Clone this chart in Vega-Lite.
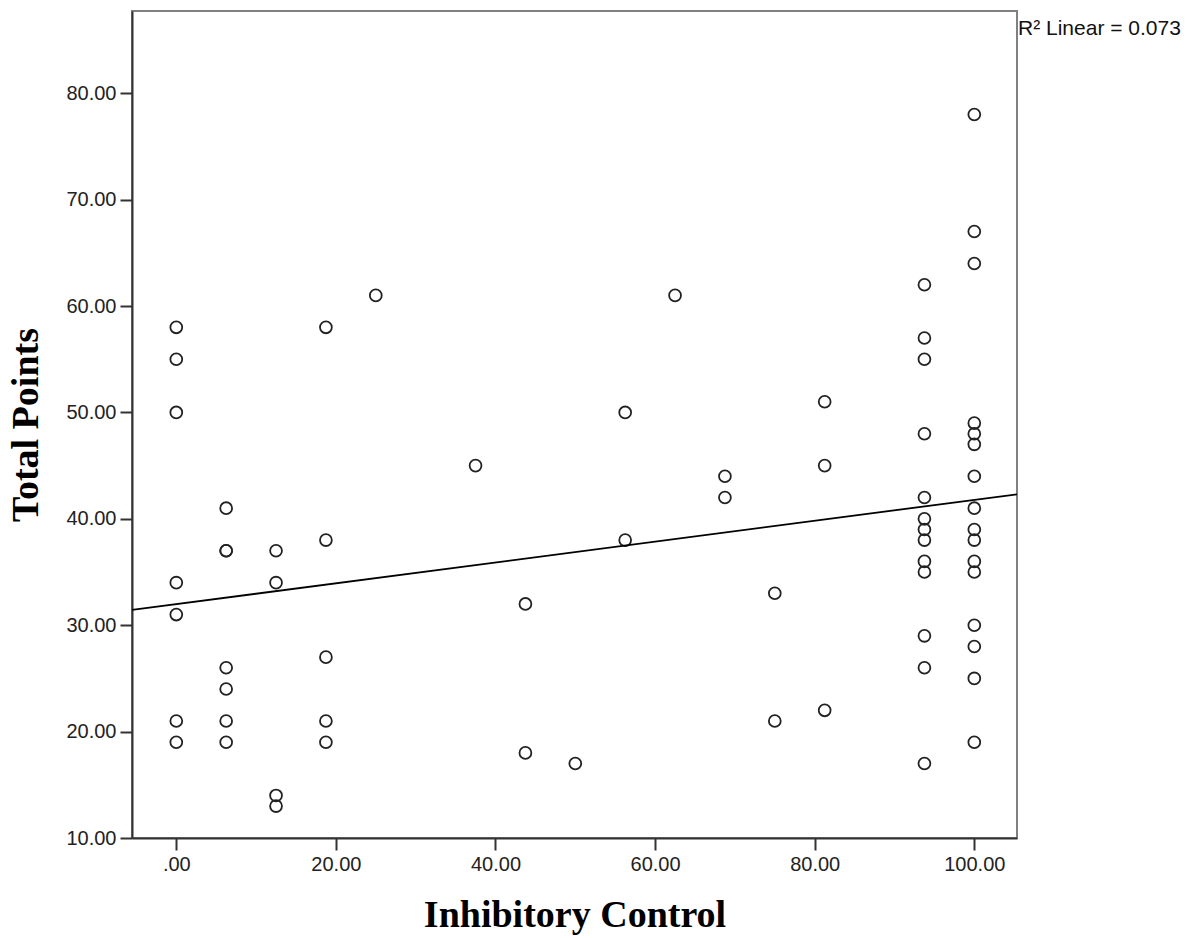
{
  "$schema": "https://vega.github.io/schema/vega-lite/v6.json",
  "autosize": "none",
  "width": 885,
  "height": 827,
  "padding": {"left": 132, "top": 11, "right": 174, "bottom": 100},
  "background": "white",
  "config": {
    "view": {"stroke": "#808080", "strokeWidth": 2},
    "axis": {
      "grid": false,
      "domainColor": "#333333",
      "domainWidth": 2,
      "tickColor": "#333333",
      "tickWidth": 2,
      "tickSize": 12,
      "labelPadding": 4,
      "labelFont": "Liberation Sans",
      "labelFontSize": 20,
      "labelColor": "#222222",
      "titleFont": "Liberation Serif",
      "titleFontSize": 38,
      "titleFontWeight": "bold",
      "titleColor": "#000000"
    }
  },
  "datasets": {
    "points": [
      {"ic": 0, "tp": 58}, {"ic": 0, "tp": 55}, {"ic": 0, "tp": 50}, {"ic": 0, "tp": 34}, {"ic": 0, "tp": 31}, {"ic": 0, "tp": 21}, {"ic": 0, "tp": 19},
      {"ic": 6.25, "tp": 41}, {"ic": 6.25, "tp": 37}, {"ic": 6.25, "tp": 37}, {"ic": 6.25, "tp": 26}, {"ic": 6.25, "tp": 24}, {"ic": 6.25, "tp": 21}, {"ic": 6.25, "tp": 19},
      {"ic": 12.5, "tp": 37}, {"ic": 12.5, "tp": 34}, {"ic": 12.5, "tp": 14}, {"ic": 12.5, "tp": 13},
      {"ic": 18.75, "tp": 58}, {"ic": 18.75, "tp": 38}, {"ic": 18.75, "tp": 27}, {"ic": 18.75, "tp": 21}, {"ic": 18.75, "tp": 19},
      {"ic": 25, "tp": 61},
      {"ic": 37.5, "tp": 45},
      {"ic": 43.75, "tp": 32}, {"ic": 43.75, "tp": 18},
      {"ic": 50, "tp": 17},
      {"ic": 56.25, "tp": 50}, {"ic": 56.25, "tp": 38},
      {"ic": 62.5, "tp": 61},
      {"ic": 68.75, "tp": 44}, {"ic": 68.75, "tp": 42},
      {"ic": 75, "tp": 33}, {"ic": 75, "tp": 21},
      {"ic": 81.25, "tp": 51}, {"ic": 81.25, "tp": 45}, {"ic": 81.25, "tp": 22},
      {"ic": 93.75, "tp": 62}, {"ic": 93.75, "tp": 57}, {"ic": 93.75, "tp": 55}, {"ic": 93.75, "tp": 48}, {"ic": 93.75, "tp": 42}, {"ic": 93.75, "tp": 40}, {"ic": 93.75, "tp": 39}, {"ic": 93.75, "tp": 38}, {"ic": 93.75, "tp": 36}, {"ic": 93.75, "tp": 35}, {"ic": 93.75, "tp": 29}, {"ic": 93.75, "tp": 26}, {"ic": 93.75, "tp": 17},
      {"ic": 100, "tp": 78}, {"ic": 100, "tp": 67}, {"ic": 100, "tp": 64}, {"ic": 100, "tp": 49}, {"ic": 100, "tp": 48}, {"ic": 100, "tp": 47}, {"ic": 100, "tp": 44}, {"ic": 100, "tp": 41}, {"ic": 100, "tp": 39}, {"ic": 100, "tp": 38}, {"ic": 100, "tp": 36}, {"ic": 100, "tp": 35}, {"ic": 100, "tp": 30}, {"ic": 100, "tp": 28}, {"ic": 100, "tp": 25}, {"ic": 100, "tp": 19}
    ],
    "note": [{"label": "R² Linear = 0.073", "ic": 105.35, "tp": 87.73}]
  },
  "layer": [
    {
      "data": {"name": "points"},
      "mark": {"type": "point", "shape": "circle", "filled": false, "size": 140, "stroke": "#222222", "strokeWidth": 1.8, "opacity": 1},
      "encoding": {
        "x": {
          "field": "ic",
          "type": "quantitative",
          "title": "Inhibitory Control",
          "scale": {"domain": [-5.55, 105.35], "nice": false, "zero": false},
          "axis": {
            "values": [0, 20, 40, 60, 80, 100],
            "labelExpr": "datum.value === 0 ? '.00' : format(datum.value, '.2f')",
            "titlePadding": 22
          }
        },
        "y": {
          "field": "tp",
          "type": "quantitative",
          "title": "Total Points",
          "scale": {"domain": [10, 87.73], "nice": false, "zero": false},
          "axis": {
            "values": [10, 20, 30, 40, 50, 60, 70, 80],
            "format": ".2f",
            "titlePadding": 20
          }
        }
      }
    },
    {
      "data": {"name": "points"},
      "transform": [{"regression": "tp", "on": "ic", "extent": [-5.55, 105.35]}],
      "mark": {"type": "line", "color": "#000000", "strokeWidth": 1.8, "clip": true},
      "encoding": {
        "x": {"field": "ic", "type": "quantitative"},
        "y": {"field": "tp", "type": "quantitative"}
      }
    },
    {
      "data": {"name": "note"},
      "mark": {"type": "text", "align": "left", "baseline": "alphabetic", "font": "Liberation Sans", "fontSize": 21, "fill": "#111111", "dx": 1, "dy": 24, "clip": false},
      "encoding": {
        "x": {"field": "ic", "type": "quantitative"},
        "y": {"field": "tp", "type": "quantitative"},
        "text": {"field": "label", "type": "nominal"}
      }
    }
  ]
}
